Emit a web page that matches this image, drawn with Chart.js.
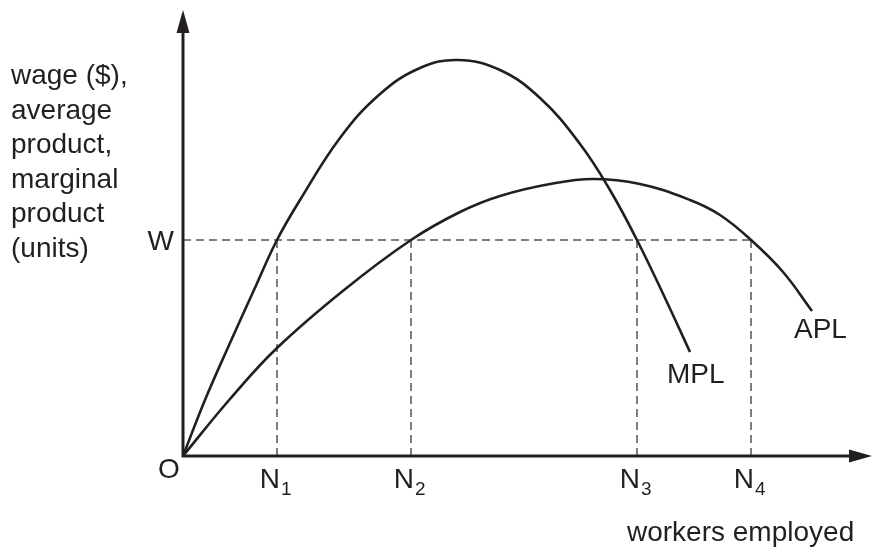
<!DOCTYPE html>
<html>
<head>
<meta charset="utf-8">
<script src="https://cdn.jsdelivr.net/npm/chart.js@4.4.0/dist/chart.umd.min.js"></script>
<style>
  html, body { margin: 0; padding: 0; background: #ffffff; }
  canvas { display: block; }
</style>
</head>
<body>
<canvas id="chart" width="877" height="552"></canvas>
<script>
// Curvas (unidades 0-100 en ambos ejes)
const mplX = [0, 3.2, 6.84, 10.33, 13.68, 17.03, 22.85, 28.68, 34.5, 40.03, 46.14, 51.97, 57.79, 62.15, 66.08, 70.16, 73.8];
const mplY = [0, 12.61, 25.45, 37.39, 48.65, 57.66, 71.62, 81.53, 87.39, 89.19, 86.94, 80.63, 70.27, 59.91, 48.65, 35.59, 23.42];

const aplX = [0, 6.84, 13.68, 23.44, 33.19, 40.32, 46.14, 53.42, 59.68, 66.52, 73.8, 78.17, 82.68, 87.34, 91.56];
const aplY = [0, 12.84, 24.32, 37.39, 48.65, 54.95, 58.56, 61.26, 62.39, 61.26, 57.66, 54.28, 48.65, 41.44, 32.66];

// Niveles de empleo (N1..N4) y salario W
const nValues = [13.68, 33.19, 66.08, 82.68];
const nSubs = ['1', '2', '3', '4'];
const wageLevel = 48.65;

const yAxisLines = ['wage ($),', 'average', 'product,', 'marginal', 'product', '(units)'];
const xAxisTitle = 'workers employed';

const INK = '#231f20';
const FONT = "'Liberation Sans', Arial, Helvetica, sans-serif";

function toPoints(xs, ys) {
  return xs.map((x, i) => ({ x, y: ys[i] }));
}

const dashStyle = {
  borderColor: '#555555',
  borderWidth: 1.5,
  borderDash: [8, 5],
  pointRadius: 0,
  fill: false,
  tension: 0
};

const dashedSets = [
  { ...dashStyle, data: [{ x: 0, y: wageLevel }, { x: nValues[3], y: wageLevel }] },
  ...nValues.map(n => ({ ...dashStyle, data: [{ x: n, y: 0 }, { x: n, y: wageLevel }] }))
];

// Ejes con flechas y textos
const axesPlugin = {
  id: 'axesPlugin',
  afterDatasetsDraw(chart) {
    const { ctx, chartArea, scales } = chart;
    const x0 = scales.x.getPixelForValue(0);
    const y0 = scales.y.getPixelForValue(0);
    const topTip = chartArea.top - 2;
    const rightTip = chartArea.right + 2;

    ctx.save();
    ctx.strokeStyle = INK;
    ctx.fillStyle = INK;
    ctx.lineWidth = 3;
    ctx.lineCap = 'butt';

    ctx.beginPath();
    ctx.moveTo(x0, y0 + 1.5);
    ctx.lineTo(x0, topTip + 20);
    ctx.moveTo(x0 - 1.5, y0);
    ctx.lineTo(rightTip - 20, y0);
    ctx.stroke();

    ctx.beginPath();
    ctx.moveTo(x0, topTip);
    ctx.lineTo(x0 - 6.5, topTip + 23);
    ctx.lineTo(x0 + 6.5, topTip + 23);
    ctx.closePath();
    ctx.fill();

    ctx.beginPath();
    ctx.moveTo(rightTip, y0);
    ctx.lineTo(rightTip - 23, y0 - 6.5);
    ctx.lineTo(rightTip - 23, y0 + 6.5);
    ctx.closePath();
    ctx.fill();

    ctx.font = `28px ${FONT}`;
    ctx.textBaseline = 'alphabetic';
    ctx.textAlign = 'left';

    yAxisLines.forEach((line, i) => {
      ctx.fillText(line, 11, 84 + i * 34.6);
    });

    ctx.fillText('O', 158, 478);

    const wy = scales.y.getPixelForValue(wageLevel);
    ctx.textAlign = 'right';
    ctx.fillText('W', 174, wy + 10);

    nValues.forEach((n, i) => {
      const px = scales.x.getPixelForValue(n);
      ctx.font = `28px ${FONT}`;
      ctx.textAlign = 'right';
      ctx.fillText('N', px + 3, 488);
      ctx.font = `19px ${FONT}`;
      ctx.textAlign = 'left';
      ctx.fillText(nSubs[i], px + 4, 495);
    });

    ctx.font = `28px ${FONT}`;
    ctx.textAlign = 'left';
    ctx.fillText('MPL', 667, 383);
    ctx.fillText('APL', 794, 338);
    ctx.fillText(xAxisTitle, 627, 541);
    ctx.restore();
  }
};

new Chart(document.getElementById('chart'), {
  type: 'line',
  data: {
    datasets: [
      {
        label: 'MPL',
        data: toPoints(mplX, mplY),
        borderColor: INK,
        borderWidth: 2.6,
        pointRadius: 0,
        fill: false,
        tension: 0.4
      },
      {
        label: 'APL',
        data: toPoints(aplX, aplY),
        borderColor: INK,
        borderWidth: 2.6,
        pointRadius: 0,
        fill: false,
        tension: 0.4
      },
      ...dashedSets
    ]
  },
  options: {
    responsive: false,
    animation: false,
    devicePixelRatio: 1,
    layout: { padding: { left: 183, right: 7, top: 12, bottom: 96 } },
    scales: {
      x: { type: 'linear', min: 0, max: 100, display: false },
      y: { type: 'linear', min: 0, max: 100, display: false }
    },
    plugins: {
      legend: { display: false },
      tooltip: { enabled: false }
    }
  },
  plugins: [axesPlugin]
});
</script>
</body>
</html>
